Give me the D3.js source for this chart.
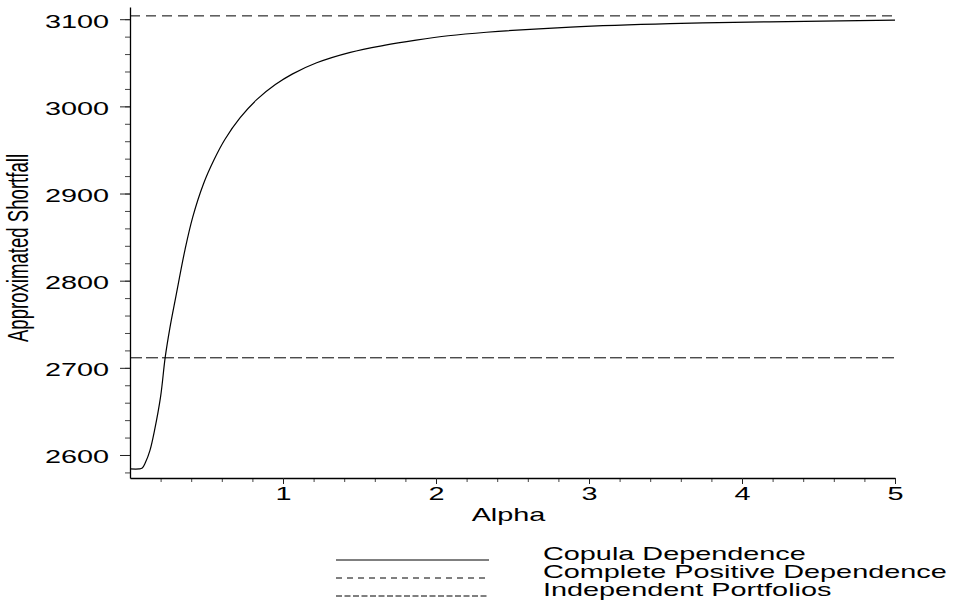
<!DOCTYPE html>
<html>
<head>
<meta charset="utf-8">
<script src="https://cdn.jsdelivr.net/npm/d3@7"></script>
<style>
  body { margin: 0; background: #fff; }
  svg { display: block; font-family: "Liberation Sans", Arial, sans-serif; }
</style>
</head>
<body>
<svg id="chart" width="956" height="612"></svg>
<script>
// Copula dependence curve
const alphaValues = [0, 0.06, 0.08, 0.1, 0.13, 0.16, 0.2, 0.23, 0.26, 0.3, 0.36, 0.41, 0.48, 0.55,
    0.62, 0.72, 0.83, 0.95, 1.06, 1.22, 1.44, 1.66, 1.87, 2.08, 2.33, 2.88, 3.53, 4.18, 5];
const shortfallValues = [2584, 2584, 2585, 2591, 2605, 2628, 2667, 2712, 2745, 2782, 2836, 2873, 2911, 2939,
    2962, 2987, 3008, 3025, 3037, 3050, 3062, 3070, 3076, 3081, 3085, 3091, 3095, 3097, 3099];

// Flat reference levels
const completeLevel = 3103.8;
const independentLevel = 2711.5;

const xTicks = [1, 2, 3, 4, 5];
const yTicks = [2600, 2700, 2800, 2900, 3000, 3100];
const seriesNames = ["Copula Dependence", "Complete Positive Dependence", "Independent Portfolios"];

const size = {
    width: 956,
    height: 612,
    margin: { top: 7, right: 61, bottom: 134, left: 130 }
};
const stretch = 1.55; // text is drawn wide, like the original export

const svg = d3.select("#chart");

const xScale = d3.scaleLinear()
    .domain([0, 5])
    .range([size.margin.left, size.width - size.margin.right]);

const yScale = d3.scaleLinear()
    .domain([2573.6, 3114])
    .range([size.height - size.margin.bottom, size.margin.top]);

const x0 = size.margin.left;
const y0 = size.height - size.margin.bottom;

// Minor ticks
svg.append("g")
    .attr("transform", `translate(0, ${y0})`)
    .call(d3.axisBottom(xScale).tickValues(d3.range(0.2, 5, 0.2)).tickSize(4).tickFormat(""))
    .call(g => g.select(".domain").remove())
    .selectAll("line").attr("stroke", "#444");

svg.append("g")
    .attr("transform", `translate(${x0}, 0)`)
    .call(d3.axisLeft(yScale).tickValues(d3.range(2580, 3101, 20)).tickSize(5).tickFormat(""))
    .call(g => g.select(".domain").remove())
    .selectAll("line").attr("stroke", "#444");

// X axis
const xAxis = svg.append("g")
    .attr("transform", `translate(0, ${y0})`)
    .call(d3.axisBottom(xScale).tickValues(xTicks).tickSize(6).tickSizeOuter(0).tickFormat(d3.format("d")));
xAxis.select(".domain").attr("stroke", "#000").attr("stroke-width", 1.3);
xAxis.selectAll("line").attr("stroke", "#222");
xAxis.selectAll("text")
    .attr("font-size", 18.6)
    .attr("fill", "#000")
    .attr("y", 22)
    .attr("dy", 0)
    .attr("transform", `scale(${stretch},1)`);

// Y axis
const yAxis = svg.append("g")
    .attr("transform", `translate(${x0}, 0)`)
    .call(d3.axisLeft(yScale).tickValues(yTicks).tickSize(10).tickSizeOuter(0).tickFormat(d3.format("d")));
yAxis.select(".domain").attr("stroke", "#000").attr("stroke-width", 1.3);
yAxis.selectAll("line").attr("stroke", "#222");
yAxis.selectAll("text")
    .attr("font-size", 18.6)
    .attr("fill", "#000")
    .attr("x", -21 / stretch)
    .attr("dy", "0.43em")
    .attr("transform", `scale(${stretch},1)`);

// Reference lines
svg.append("line")
    .attr("x1", xScale(0)).attr("x2", xScale(5))
    .attr("y1", yScale(completeLevel)).attr("y2", yScale(completeLevel))
    .attr("stroke", "#000").attr("stroke-width", 1)
    .attr("stroke-dasharray", "10,6");

svg.append("line")
    .attr("x1", xScale(0)).attr("x2", xScale(5))
    .attr("y1", yScale(independentLevel)).attr("y2", yScale(independentLevel))
    .attr("stroke", "#000").attr("stroke-width", 1)
    .attr("stroke-dasharray", "12,4");

// Copula curve
const curveData = alphaValues.map((a, i) => ({ alpha: a, value: shortfallValues[i] }));
svg.append("path")
    .datum(curveData)
    .attr("fill", "none")
    .attr("stroke", "#000")
    .attr("stroke-width", 1.2)
    .attr("d", d3.line()
        .x(d => xScale(d.alpha))
        .y(d => yScale(d.value))
        .curve(d3.curveCatmullRom.alpha(0.5)));

// Axis titles
svg.append("text")
    .attr("transform", `translate(${(x0 + size.width - size.margin.right) / 2 - 4}, 521) scale(${stretch},1)`)
    .attr("text-anchor", "middle")
    .attr("font-size", 18.6)
    .text("Alpha");

svg.append("text")
    .attr("transform", `translate(28, 248) rotate(-90) scale(1,${stretch})`)
    .attr("text-anchor", "middle")
    .attr("font-size", 18.6)
    .text("Approximated Shortfall");

// Legend
const legendDash = [null, "6,5", "6,2.5"];
const legendY = [560, 578, 596];
const legend = svg.append("g");
seriesNames.forEach((name, i) => {
    legend.append("line")
        .attr("x1", 336).attr("x2", 489)
        .attr("y1", legendY[i]).attr("y2", legendY[i])
        .attr("stroke", "#000").attr("stroke-width", 1)
        .attr("stroke-dasharray", legendDash[i]);
    legend.append("text")
        .attr("transform", `translate(543, ${legendY[i]}) scale(${stretch},1)`)
        .attr("font-size", 18.6)
        .text(name);
});
</script>
</body>
</html>
